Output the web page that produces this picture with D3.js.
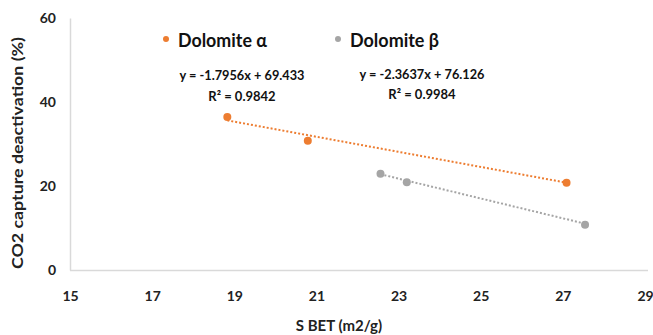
<!DOCTYPE html>
<html lang="en">
<head>
  <meta charset="UTF-8">
  <title>CO2 capture deactivation vs S BET</title>
  <script src="https://d3js.org/d3.v7.min.js"></script>
  <style>
    body { margin: 0; background: #fff; font-family: Lato, "Open Sans", sans-serif; }
    .tick text { font-family: Lato, sans-serif; font-weight: bold; font-size: 14px; fill: #222; }
  </style>
</head>
<body>
  <svg id="chart" width="653" height="335"></svg>
  <script>
    // series data (x = S BET in m2/g, y = deactivation %)
    const alphaX = [18.83, 20.79, 27.09];
    const alphaY = [36.4, 30.8, 20.8];
    const betaX = [22.56, 23.2, 27.54];
    const betaY = [22.9, 20.9, 10.8];

    // linear trendline coefficients (slope, intercept) and R²
    const alphaFit = [-1.7956, 69.433, 0.9842];
    const betaFit = [-2.3637, 76.126, 0.9984];

    const seriesNames = ["Dolomite α", "Dolomite β"];
    const seriesColors = ["#ED7D31", "#A5A5A5"];

    const xTicks = [15, 17, 19, 21, 23, 25, 27, 29];
    const yTicks = [0, 20, 40, 60];

    const svgWidth = 653, svgHeight = 335;
    const margin = {top: 18, right: 5, bottom: 65, left: 70};
    const width = svgWidth - margin.left - margin.right;
    const height = svgHeight - margin.top - margin.bottom;

    const svg = d3.select("#chart");
    const g = svg.append("g")
                 .attr("transform", `translate(${margin.left},${margin.top})`);

    const x = d3.scaleLinear().domain([15, 29]).range([0, 575]);
    const y = d3.scaleLinear().domain([0, 60]).range([height, 0]);

    // axes
    const xAxis = g.append("g")
      .attr("transform", `translate(0,${height})`)
      .call(d3.axisBottom(x).tickValues(xTicks).tickSize(0).tickPadding(21));
    xAxis.select(".domain").attr("stroke", "#d9d9d9").attr("stroke-width", 1.5)
      .attr("d", `M0,0.5H${width}`);

    const yAxis = g.append("g")
      .call(d3.axisLeft(y).tickValues(yTicks).tickSize(0).tickPadding(14));
    yAxis.select(".domain").attr("stroke", "#d9d9d9").attr("stroke-width", 1.5);

    // axis titles
    svg.append("text")
       .attr("x", 339).attr("y", 331)
       .attr("text-anchor", "middle")
       .style("font-weight", "bold").style("font-size", "15px").attr("fill", "#222")
       .text("S BET (m2/g)");

    svg.append("text")
       .attr("transform", "translate(23,153) rotate(-90)")
       .attr("text-anchor", "middle")
       .style("font-weight", "bold").style("font-size", "16px").attr("fill", "#222")
       .attr("textLength", 232).attr("lengthAdjust", "spacingAndGlyphs")
       .text("CO2 capture deactivation (%)");

    const series = [
      {xs: alphaX, ys: alphaY, fit: alphaFit},
      {xs: betaX, ys: betaY, fit: betaFit}
    ];

    series.forEach((s, i) => {
      const color = seriesColors[i];
      const x0 = d3.min(s.xs), x1 = d3.max(s.xs);
      const line = d3.line().x(d => x(d)).y(d => y(s.fit[0] * d + s.fit[1]));

      // dotted trendline
      g.append("path")
       .datum([x0, x1])
       .attr("fill", "none")
       .attr("stroke", color)
       .attr("stroke-width", 2)
       .attr("stroke-dasharray", "2,2")
       .attr("d", line);

      // points
      g.selectAll(`.pt${i}`)
       .data(s.xs.map((d, j) => [d, s.ys[j]]))
       .enter()
       .append("circle")
       .attr("class", `pt${i}`)
       .attr("cx", d => x(d[0]))
       .attr("cy", d => y(d[1]))
       .attr("r", 4)
       .attr("fill", color);
    });

    // legend
    const legendX = [166, 338];
    seriesNames.forEach((name, i) => {
      svg.append("circle")
         .attr("cx", legendX[i]).attr("cy", 39).attr("r", 3)
         .attr("fill", seriesColors[i]);
      svg.append("text")
         .attr("x", legendX[i] + 12).attr("y", 47)
         .style("font-size", "19px").style("font-weight", "bold").attr("fill", "#111")
         .attr("textLength", 89).attr("lengthAdjust", "spacingAndGlyphs")
         .text(name);
    });

    // trendline equations
    const eqPos = [[242, 80, 101], [422, 79, 99]];
    [alphaFit, betaFit].forEach((f, i) => {
      const [cx, y1, y2] = eqPos[i];
      const sign = f[1] >= 0 ? "+" : "-";
      svg.append("text")
         .attr("x", cx).attr("y", y1).attr("text-anchor", "middle")
         .style("font-size", "13px").style("font-weight", "bold").attr("fill", "#111")
         .attr("textLength", 125).attr("lengthAdjust", "spacingAndGlyphs")
         .text(`y = ${f[0]}x ${sign} ${Math.abs(f[1])}`);
      svg.append("text")
         .attr("x", cx).attr("y", y2).attr("text-anchor", "middle")
         .style("font-size", "13px").style("font-weight", "bold").attr("fill", "#111")
         .text(`R² = ${f[2]}`);
    });
  </script>
</body>
</html>
